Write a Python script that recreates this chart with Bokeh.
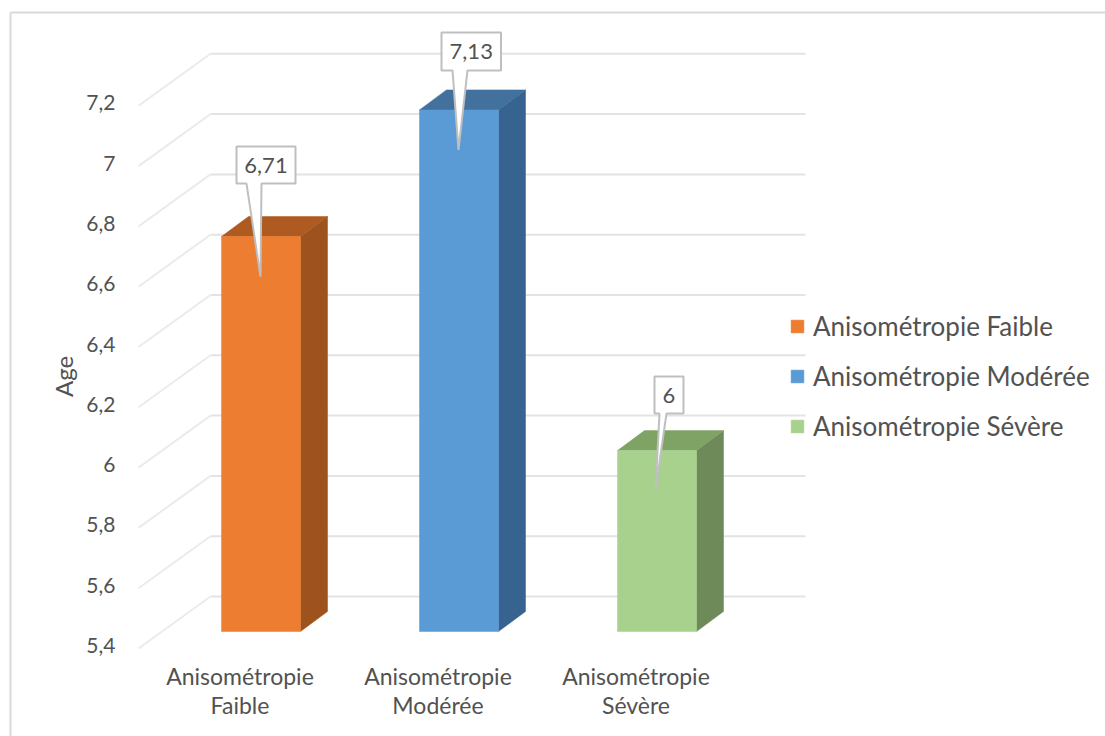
import math
from bokeh.core.properties import value
from bokeh.embed import file_html
from bokeh.models import FixedTicker, Label, Legend, LegendItem, LinearAxis, Range1d
from bokeh.plotting import figure
from bokeh.resources import INLINE

categories = ["Anisométropie Faible", "Anisométropie Modérée", "Anisométropie Sévère"]
axis_line1 = ["Anisométropie", "Anisométropie", "Anisométropie"]
axis_line2 = ["Faible", "Modérée", "Sévère"]
values = [6.71, 7.13, 6.0]
value_labels = ["6,71", "7,13", "6"]
front_colors = ["#ED7D31", "#5B9BD5", "#A9D18E"]
top_colors = ["#AE5A21", "#41719C", "#7FA265"]
side_colors = ["#9E531E", "#376391", "#6D8A58"]
y_ticks = [5.4, 5.6, 5.8, 6.0, 6.2, 6.4, 6.6, 6.8, 7.0, 7.2]
y_tick_labels = ["5,4", "5,6", "5,8", "6", "6,2", "6,4", "6,6", "6,8", "7", "7,2"]

FONT = "Lato"
TXT = "#525252"
W, H = 1105, 736
PX_Y = 301.5      # pixels per value unit
PX_X = 198.0      # pixels per category
BASE = 5.4
ORIGIN_X, ORIGIN_Y = 260.5, 631   # pixel of x=0 and of y=BASE

def xo(px):
    return px / PX_X
def yo(px):
    return px / PX_Y
def xp(px):
    return (px - ORIGIN_X) / PX_X
def yp(px):
    return BASE + (ORIGIN_Y - px) / PX_Y

p = figure(width=W, height=H, output_backend="svg", toolbar_location=None,
           x_range=Range1d(xp(0), xp(W)), y_range=Range1d(yp(H), yp(0)),
           min_border=0, outline_line_color=None,
           background_fill_color="white", border_fill_color="white",
           x_axis_location=None, y_axis_location=None)
p.grid.visible = False

# chart area border
p.segment(x0=[xp(10), xp(10)], x1=[xp(10), xp(W)], y0=[yp(H), yp(12)], y1=[yp(12), yp(12)],
          line_color="#d9d9d9", line_width=2)

# tick labels sit 14px lower than the bars' scale
p.extra_y_ranges = {"ticks": Range1d(yp(H) + yo(14), yp(0) + yo(14))}
ya = LinearAxis(y_range_name="ticks", ticker=FixedTicker(ticks=y_ticks), fixed_location=xp(132),
                major_label_overrides=dict(zip(y_ticks, y_tick_labels)))
ya.axis_line_color = None
ya.major_tick_line_color = None
ya.minor_tick_line_color = None
ya.major_label_standoff = 11
ya.major_label_text_font = FONT
ya.major_label_text_font_size = "21px"
ya.major_label_text_color = TXT
p.add_layout(ya, "left")

# category labels sit 21px left of the bars, on two lines 29px apart
tick_pos = [i + xo(-21) for i in range(len(categories))]
for labels, line_y in ((axis_line1, 655), (axis_line2, 684)):
    xa = LinearAxis(ticker=FixedTicker(ticks=tick_pos), fixed_location=yp(line_y),
                    major_label_overrides=dict(zip(tick_pos, labels)))
    xa.axis_line_color = None
    xa.major_tick_line_color = None
    xa.minor_tick_line_color = None
    xa.major_label_standoff = 0
    xa.major_label_text_font = FONT
    xa.major_label_text_font_size = "23px"
    xa.major_label_text_color = TXT
    p.add_layout(xa, "below")

# back wall and side wall grid lines
back_left, back_right, side_left = xp(210), xp(805), xp(138)
back_dy, side_dy = yo(35), yo(-17)
p.segment(x0=[back_left] * len(y_ticks), x1=[back_right] * len(y_ticks),
          y0=[t + back_dy for t in y_ticks], y1=[t + back_dy for t in y_ticks],
          line_color="#e3e3e3", line_width=2)
p.segment(x0=[side_left] * len(y_ticks), x1=[back_left] * len(y_ticks),
          y0=[t + side_dy for t in y_ticks], y1=[t + back_dy for t in y_ticks],
          line_color="#ebebeb", line_width=2)

# bars
hw = xo(39.5)
dx, dy = xo(27), yo(20)
items = []
for i, v in enumerate(values):
    p.patch([i + hw, i + hw + dx, i + hw + dx, i + hw], [BASE, BASE + dy, v + dy, v],
            fill_color=side_colors[i], line_color=side_colors[i], line_width=0.5)
    p.patch([i - hw, i - hw + dx, i + hw + dx, i + hw], [v, v + dy, v + dy, v],
            fill_color=top_colors[i], line_color=top_colors[i], line_width=0.5)
    r = p.quad(left=[i - hw], right=[i + hw], bottom=[BASE], top=[v],
               fill_color=front_colors[i], line_color=front_colors[i], line_width=0.5)
    items.append(LegendItem(label=categories[i], renderers=[r]))

# callouts: offsets in pixels from the bar's top centre
box_left = [-24.5, -17.5, -2.5]
box_right = [34.5, 42, 26.5]
box_low = [53, 39.5, 37]
box_high = [90, 77.5, 74]
tail_left = [-14.5, -6.5, 2.5]
tail_right = [0.5, 8.5, 9.5]
tip_dx = [-0.5, -0.5, -1.5]
tip_dy = [40, 40, 39]
for i, v in enumerate(values):
    xs = [box_left[i], box_left[i], box_right[i], box_right[i], tail_right[i], tip_dx[i], tail_left[i]]
    ys = [box_low[i], box_high[i], box_high[i], box_low[i], box_low[i], -tip_dy[i], box_low[i]]
    p.patch([i + xo(a) for a in xs], [v + yo(b) for b in ys],
            fill_color="white", line_color="#bfbfbf", line_width=2)
    p.text(x=[i + xo((box_left[i] + box_right[i]) / 2)], y=[v + yo((box_low[i] + box_high[i]) / 2)],
           text=[value_labels[i]], text_font=value(FONT), text_font_size="22px",
           text_color=TXT, text_align="center", text_baseline="middle")

legend = Legend(items=items, location=(789, 294), orientation="vertical", padding=0, margin=0,
                background_fill_alpha=0, border_line_color=None, spacing=18,
                glyph_width=16, glyph_height=16, label_standoff=8, label_height=26,
                label_text_font=FONT, label_text_font_size="26px", label_text_color=TXT)
p.add_layout(legend, "center")

p.add_layout(Label(x=xp(63), y=yp(376), text="Age", angle=math.pi / 2,
                   text_font=FONT, text_font_size="24px", text_color=TXT,
                   text_align="center", text_baseline="middle"))

open("out.html", "w").write(file_html(p, INLINE))
